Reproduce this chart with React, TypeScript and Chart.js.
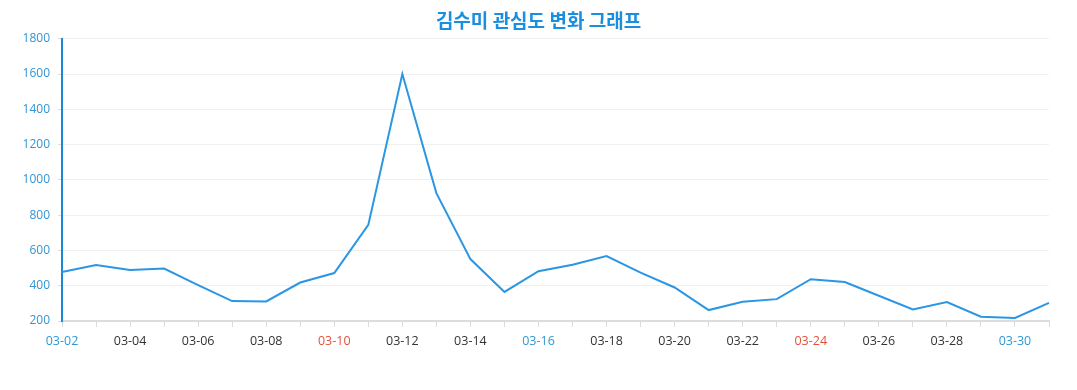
import React, { useEffect, useRef } from "react";
import { Chart, registerables } from "chart.js";

Chart.register(...registerables);

const dates = [
  "03-02", "03-03", "03-04", "03-05", "03-06", "03-07", "03-08", "03-09", "03-10", "03-11",
  "03-12", "03-13", "03-14", "03-15", "03-16", "03-17", "03-18", "03-19", "03-20", "03-21",
  "03-22", "03-23", "03-24", "03-25", "03-26", "03-27", "03-28", "03-29", "03-30", "03-31",
];
const interest = [
  478, 517, 489, 497, 403, 313, 311, 418, 472, 745,
  1600, 925, 551, 365, 482, 519, 568, 474, 390, 262,
  309, 324, 437, 421, 343, 266, 307, 224, 217, 303,
];
const blueDates = ["03-02", "03-16", "03-30"];
const redDates = ["03-10", "03-24"];
const yMin = 200;
const yMax = 1800;
const yStep = 200;

export default function App() {
  const ref = useRef<HTMLCanvasElement | null>(null);
  useEffect(() => {
    if (!ref.current) return;
    const chart = new Chart(ref.current, {
      type: "line",
      data: {
        labels: dates,
        datasets: [
          {
            label: "관심도",
            data: interest,
            borderColor: "#2b96e3",
            borderWidth: 2,
            pointRadius: 0,
            tension: 0,
            fill: false,
            yAxisID: "y",
          },
        ],
      },
      options: {
        animation: false,
        responsive: false,
        layout: { padding: 0 },
        plugins: {
          legend: { display: false },
          tooltip: { enabled: false },
          title: {
            display: true,
            text: "김수미 관심도 변화 그래프",
            color: "#1a8fe0",
            font: { family: "'Noto Sans CJK KR', 'Noto Sans'", size: 19, weight: "bold" },
            padding: { top: 9, bottom: 7 },
          },
        },
        scales: {
          x: {
            offset: false,
            border: { display: true, color: "#dcdcdc", width: 2 },
            grid: { display: true, drawOnChartArea: false, drawTicks: true, tickLength: 6, color: "#dcdcdc" },
            ticks: {
              autoSkip: false,
              maxRotation: 0,
              padding: 7,
              font: { family: "'Open Sans', 'Noto Sans'", size: 12.5 },
              color: (ctx: any) => {
                const l = dates[ctx.index];
                if (blueDates.includes(l)) return "#2f97d4";
                if (redDates.includes(l)) return "#e0533a";
                return "#333333";
              },
              callback: (_v: any, i: number) => (i % 2 === 0 ? dates[i] : ""),
            },
            afterFit: (scale: any) => {
              scale.height = 69;
            },
          },
          y: {
            min: yMin,
            max: yMax,
            border: { display: true, color: "#1a88d6", width: 2 },
            grid: { color: "#f0f0f0", tickLength: 4, drawTicks: true, tickColor: "#dcdcdc" },
            ticks: {
              stepSize: yStep,
              padding: 8,
              color: "#3394d4",
              font: { family: "'Open Sans', 'Noto Sans'", size: 12 },
              callback: (v: any) => String(v),
            },
            afterFit: (scale: any) => {
              scale.width = 62;
            },
          },
          yr: {
            position: "right",
            display: true,
            min: yMin,
            max: yMax,
            border: { display: false },
            grid: { display: false, drawOnChartArea: false, drawTicks: false },
            ticks: { display: false },
            afterFit: (scale: any) => {
              scale.width = 28;
            },
          },
        },
      },
    });
    return () => chart.destroy();
  }, []);
  return (
    <div style={{ position: "fixed", left: 0, top: 0, width: 1077, height: 390, background: "#fff" }}>
      <canvas ref={ref} width={1077} height={390} style={{ width: 1077, height: 390 }} />
    </div>
  );
}
